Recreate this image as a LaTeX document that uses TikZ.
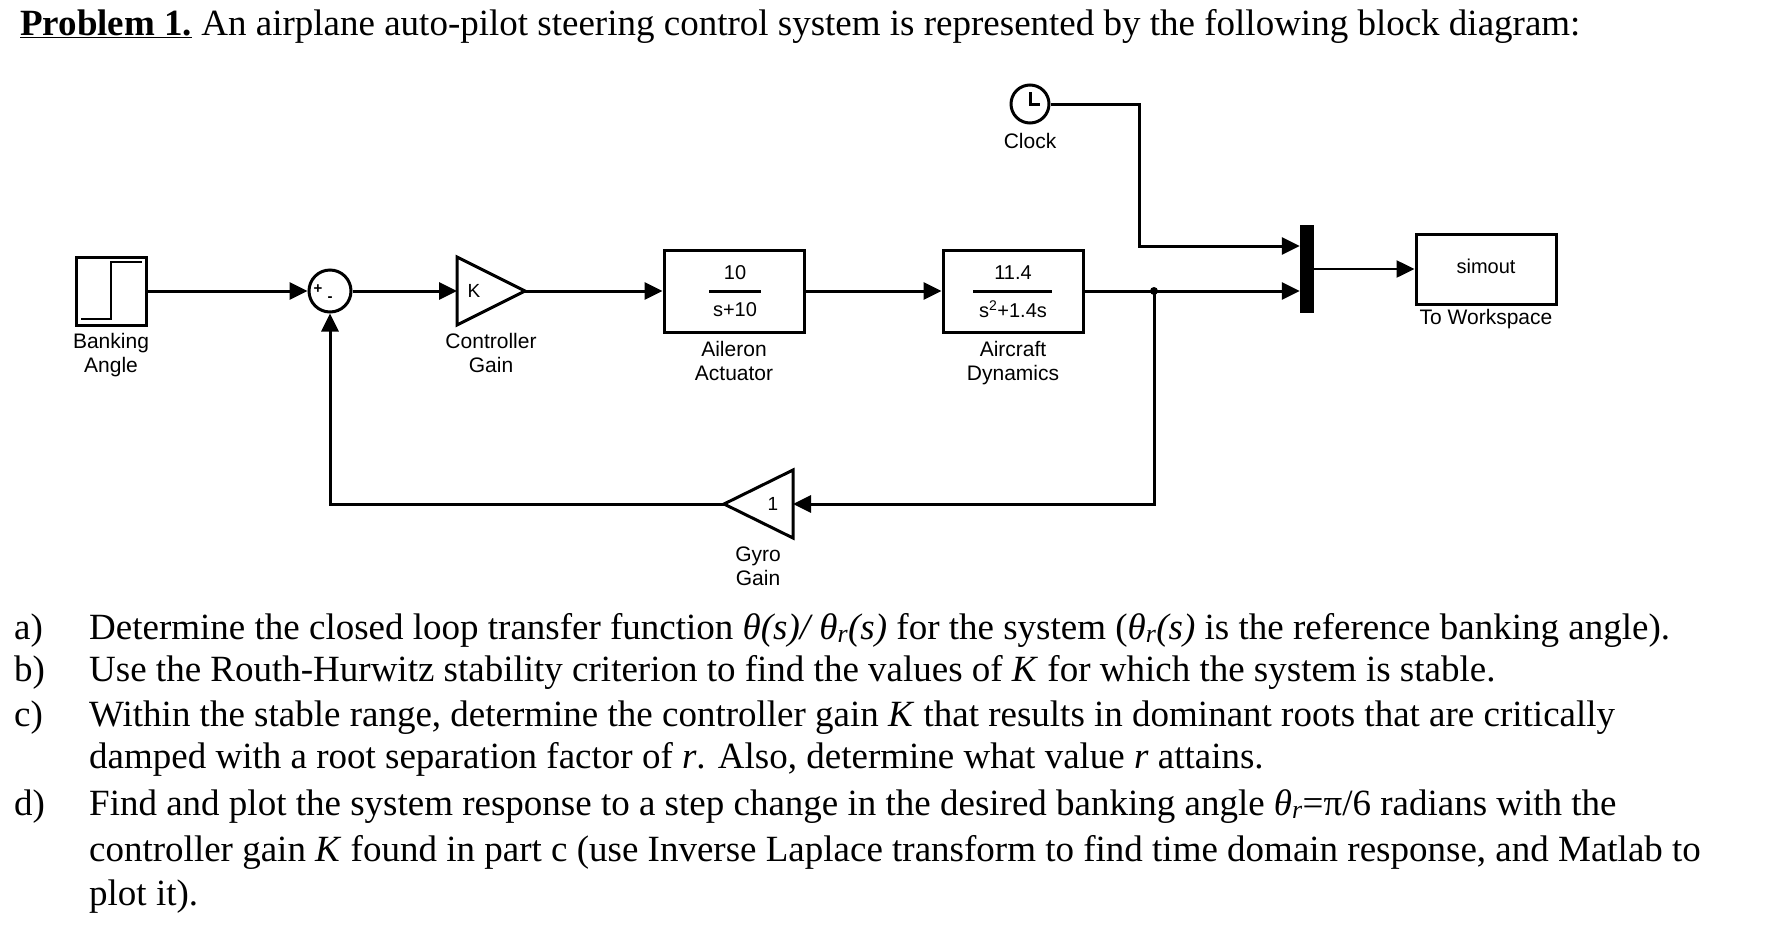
\documentclass[tikz,border=0pt]{standalone}
\usepackage{fontspec}
\setmainfont{Liberation Serif}
\newfontfamily\blk{Liberation Sans}
\usetikzlibrary{arrows.meta}
\begin{document}
\begin{tikzpicture}[x=1pt,y=-1pt,
  wire/.style={line width=3pt},
  sig/.style={wire,-{Triangle[length=18pt,width=17pt]}},
  blk/.style={draw,line width=3pt,inner sep=0pt},
  lab/.style={font=\blk\fontsize{21}{24}\selectfont,align=center,anchor=north},
  num/.style={font=\blk\fontsize{20}{20}\selectfont},
  txt/.style={font=\fontsize{37}{40}\selectfont,anchor=base west,inner sep=0pt}]
\useasboundingbox (0,0) rectangle (1769,935);
% title
\node[txt] (title) at (20,35) {\textbf{\underline{Problem 1.}} An airplane auto-pilot steering control system is represented by the following block diagram:};
% blocks
\node[blk,minimum width=70pt,minimum height=68pt] (step) at (111,291) {};
\draw[line width=2.5pt] (81,319) -- (111,319) -- (111,262) -- (142,262);
\node[lab] (stepl) at (111,330) {Banking\\Angle};
\node[blk,circle,minimum size=42pt] (sum) at (330,291) {};
\node[font=\blk\fontsize{15}{15}\selectfont\bfseries] (plus) at (318,289) {+};
\node[font=\blk\fontsize{15}{15}\selectfont\bfseries] (minus) at (330,299) {-};
\coordinate (kin) at (457,291);
\coordinate (kout) at (525,291);
\draw[line width=3pt,line join=miter] (457,257) -- (525,291) -- (457,325) -- cycle;
\node[font=\blk\fontsize{19}{19}\selectfont] (k) at (474,291) {K};
\node[lab] (kl) at (491,330) {Controller\\Gain};
\node[blk,minimum width=140pt,minimum height=82pt] (ail) at (734,291) {};
\node[num] (ailn) at (735,273) {10};
\draw[line width=3pt] (709,291) -- (761,291);
\node[num] (aild) at (735,310) {s+10};
\node[lab] (aill) at (734,338) {Aileron\\Actuator};
\node[blk,minimum width=140pt,minimum height=82pt] (air) at (1013,291) {};
\node[num] (airn) at (1013,273) {11.4};
\draw[line width=3pt] (973,291) -- (1052,291);
\node[num] (aird) at (1013,309) {s\textsuperscript{2}+1.4s};
\node[lab] (airl) at (1013,338) {Aircraft\\Dynamics};
\node[blk,circle,minimum size=38pt] (clk) at (1030,104) {};
\draw[line width=3pt] (1030,92) -- (1030,104) -- (1040,104);
\node[lab] (clkl) at (1030,130) {Clock};
\node[fill=black,minimum width=14pt,minimum height=88pt,inner sep=0pt] (mux) at (1307,269) {};
\node[blk,minimum width=140pt,minimum height=70pt] (ws) at (1486,269) {};
\node[num] (wst) at (1486,266) {simout};
\node[lab] (wsl) at (1486,306) {To Workspace};
\coordinate (gin) at (793,504);
\draw[line width=3pt,line join=miter] (793,470) -- (724,504) -- (793,538) -- cycle;
\node[font=\blk\fontsize{19}{19}\selectfont] (g) at (773,504) {1};
\node[lab] (gl) at (758,543) {Gyro\\Gain};
% connectors
\coordinate (br) at (1154,291);
\coordinate (fb) at (1154,504);
\coordinate (fl) at (330,504);
\coordinate (c1) at (1139,104);
\coordinate (c2) at (1139,246);
\fill (br) circle (4pt);
\draw[sig] (step.east) -- (sum.west);
\draw[sig] (sum.east) -- (kin);
\draw[sig] (kout) -- (ail.west);
\draw[sig] (ail.east) -- (air.west);
\draw[sig] (air.east) -- (mux.west|-air.east);
\draw[sig] (clk.east) -- (c1) -- (c2) -- (mux.west|-c2);
\draw[sig,line width=2.5pt] (mux.east) -- (ws.west);
\draw[sig] (br) -- (fb) -- (gin);
\draw[sig] (724,504) -- (fl) -- (sum.south);
% questions
\node[txt] (qa) at (14,639) {a)};
\node[txt] (ta) at (89,639) {Determine the closed loop transfer function \textit{θ(s)/ θ\textsubscript{r}(s)} for the system (\textit{θ\textsubscript{r}(s)} is the reference banking angle).};
\node[txt] (qb) at (14,681) {b)};
\node[txt] (tb) at (89,681) {Use the Routh-Hurwitz stability criterion to find the values of \textit{K} for which the system is stable.};
\node[txt] (qc) at (14,726) {c)};
\node[txt] (tc) at (89,726) {Within the stable range, determine the controller gain \textit{K} that results in dominant roots that are critically};
\node[txt] (tc2) at (89,768) {damped with a root separation factor of \textit{r}. Also, determine what value \textit{r} attains.};
\node[txt] (qd) at (14,815) {d)};
\node[txt] (td) at (89,815) {Find and plot the system response to a step change in the desired banking angle \textit{θ\textsubscript{r}}=π/6 radians with the};
\node[txt] (td2) at (89,861) {controller gain \textit{K} found in part c (use Inverse Laplace transform to find time domain response, and Matlab to};
\node[txt] (td3) at (89,905) {plot it).};
\end{tikzpicture}
\end{document}
